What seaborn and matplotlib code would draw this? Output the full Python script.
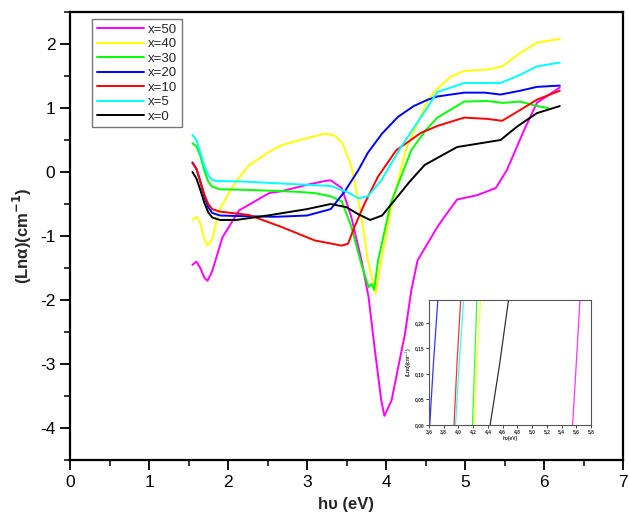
import numpy as np
import pandas as pd
import matplotlib
matplotlib.use("Agg")
import matplotlib.pyplot as plt
import seaborn as sns
from matplotlib.ticker import MultipleLocator, FuncFormatter

# main curves: hv (eV) vs ln(alpha)
hv_50 = [1.55, 1.60, 1.65, 1.70, 1.74, 1.80, 1.93, 2.14, 2.52, 2.68, 3.00, 3.23, 3.30, 3.44, 3.56, 3.69, 3.78,
         3.86, 3.94, 3.98, 4.07, 4.24, 4.32, 4.40, 4.53, 4.65, 4.74, 4.90, 5.16, 5.39, 5.53, 5.75, 5.91, 6.20]
ln_50 = [-1.45, -1.40, -1.50, -1.65, -1.70, -1.55, -1.02, -0.60, -0.33, -0.30, -0.20, -0.14, -0.13, -0.25, -0.70,
         -1.38, -1.96, -2.79, -3.57, -3.81, -3.57, -2.53, -1.85, -1.38, -1.11, -0.86, -0.70, -0.43, -0.36, -0.25,
         0.03, 0.66, 1.08, 1.32]

hv_40 = [1.55, 1.60, 1.65, 1.70, 1.74, 1.80, 1.89, 2.00, 2.10, 2.26, 2.50, 2.68, 3.00, 3.23, 3.35, 3.45, 3.56,
         3.69, 3.77, 3.87, 3.94, 4.06, 4.25, 4.53, 4.65, 4.82, 4.99, 5.28, 5.47, 5.70, 5.91, 6.20]
ln_40 = [-0.75, -0.70, -0.80, -1.05, -1.15, -1.05, -0.60, -0.35, -0.15, 0.10, 0.30, 0.42, 0.53, 0.60, 0.57, 0.45,
         0.10, -0.70, -1.38, -1.90, -1.38, -0.60, 0.34, 1.13, 1.30, 1.49, 1.58, 1.60, 1.65, 1.86, 2.02, 2.08]

hv_30 = [1.55, 1.60, 1.65, 1.70, 1.75, 1.80, 1.90, 2.26, 2.89, 3.10, 3.30, 3.44, 3.56, 3.69, 3.78, 3.82, 3.85,
         3.90, 4.06, 4.32, 4.50, 4.65, 4.99, 5.28, 5.47, 5.70, 5.91, 6.05]
ln_30 = [0.45, 0.40, 0.25, 0.02, -0.15, -0.23, -0.27, -0.28, -0.31, -0.33, -0.38, -0.46, -0.85, -1.45, -1.80,
         -1.75, -1.84, -1.38, -0.49, 0.34, 0.65, 0.85, 1.10, 1.11, 1.08, 1.10, 1.03, 1.00]

hv_20 = [1.55, 1.60, 1.65, 1.70, 1.75, 1.80, 1.90, 2.20, 2.60, 3.00, 3.30, 3.48, 3.65, 3.77, 3.95, 4.15, 4.35,
         4.53, 4.65, 4.99, 5.25, 5.45, 5.70, 5.91, 6.20]
ln_20 = [0.15, 0.05, -0.15, -0.38, -0.55, -0.64, -0.68, -0.69, -0.70, -0.68, -0.58, -0.30, 0.03, 0.30, 0.60,
         0.86, 1.03, 1.13, 1.18, 1.24, 1.24, 1.21, 1.27, 1.33, 1.35]

hv_10 = [1.55, 1.60, 1.65, 1.70, 1.75, 1.80, 1.90, 2.26, 2.68, 3.10, 3.44, 3.52, 3.60, 3.73, 3.90, 4.13, 4.44,
         4.65, 4.99, 5.28, 5.47, 5.70, 5.91, 6.20]
ln_10 = [0.14, 0.05, -0.15, -0.35, -0.50, -0.58, -0.62, -0.67, -0.86, -1.07, -1.15, -1.12, -0.86, -0.49, -0.07,
         0.34, 0.61, 0.72, 0.85, 0.83, 0.80, 0.97, 1.13, 1.27]

hv_5 = [1.55, 1.60, 1.65, 1.70, 1.75, 1.80, 1.85, 2.20, 2.68, 3.31, 3.52, 3.65, 3.77, 3.94, 4.19, 4.53, 4.65,
        4.99, 5.45, 5.70, 5.91, 6.20]
ln_5 = [0.58, 0.50, 0.30, 0.10, -0.05, -0.12, -0.14, -0.15, -0.18, -0.22, -0.32, -0.41, -0.38, -0.13, 0.39, 1.02,
        1.25, 1.39, 1.39, 1.52, 1.65, 1.71]

hv_0 = [1.55, 1.60, 1.65, 1.70, 1.75, 1.80, 1.90, 2.10, 2.50, 3.00, 3.30, 3.50, 3.65, 3.80, 3.95, 4.09, 4.30,
        4.49, 4.65, 4.90, 5.20, 5.45, 5.66, 5.91, 6.20]
ln_0 = [0.00, -0.10, -0.28, -0.48, -0.63, -0.71, -0.75, -0.75, -0.68, -0.58, -0.50, -0.55, -0.66, -0.75, -0.68,
        -0.47, -0.15, 0.11, 0.22, 0.39, 0.45, 0.50, 0.71, 0.92, 1.03]

# inset: near-vertical segments (bottom, middle, top)
inset_y = [0.0, 0.12, 0.245]
inset_x = {
    "x=20": [3.61, 3.66, 3.72],
    "x=10": [3.94, 3.98, 4.03],
    "x=5": [3.96, 4.01, 4.07],
    "x=30": [4.19, 4.22, 4.25],
    "x=40": [4.21, 4.25, 4.30],
    "x=0": [4.43, 4.56, 4.68],
    "x=50": [5.55, 5.60, 5.65],
}

labels = ["x=50", "x=40", "x=30", "x=20", "x=10", "x=5", "x=0"]
colors = ["#ff00ff", "#ffff00", "#00ff00", "#0000ff", "#ff0000", "#00ffff", "#000000"]
series = [(hv_50, ln_50), (hv_40, ln_40), (hv_30, ln_30), (hv_20, ln_20),
          (hv_10, ln_10), (hv_5, ln_5), (hv_0, ln_0)]

frames = []
for lab, (xs, ys) in zip(labels, series):
    frames.append(pd.DataFrame({"hv": xs, "ln": ys, "sample": lab}))
df = pd.concat(frames, ignore_index=True)

sns.set_style("ticks")
plt.rcParams["font.family"] = ["Liberation Sans", "DejaVu Sans"]
plt.rcParams["axes.unicode_minus"] = False

fig = plt.figure(figsize=(6.29, 5.18), dpi=100)
ax = fig.add_axes([70 / 629, 1 - 460 / 518, 553 / 629, 448 / 518])

pal = dict(zip(labels, colors))
sns.lineplot(data=df, x="hv", y="ln", hue="sample", hue_order=labels, palette=pal,
             sort=False, estimator=None, lw=1.4, ax=ax)

ax.set_xlim(0, 7)
ax.set_ylim(-4.5, 2.5)
ax.xaxis.set_major_locator(MultipleLocator(1))
ax.xaxis.set_minor_locator(MultipleLocator(0.5))
ax.yaxis.set_major_locator(MultipleLocator(1))
ax.yaxis.set_minor_locator(MultipleLocator(0.5))
ax.tick_params(which="major", direction="out", length=7, width=1.3, labelsize=12.5, colors="black")
ax.tick_params(which="minor", direction="out", length=4, width=1.3)
for s in ax.spines.values():
    s.set_linewidth(1.6)
    s.set_color("black")
ax.set_xlabel("h\u03c5 (eV)", fontsize=12, fontweight="bold", labelpad=5)
ax.set_ylabel("(Ln\u03b1)(cm$^{\\mathbf{-1}}$)", fontsize=12, fontweight="bold", labelpad=4)

leg = ax.legend(loc="upper left", bbox_to_anchor=(0.035, 0.99), fontsize=9.5, frameon=True,
                fancybox=False, handlelength=3.6, handletextpad=0.3, borderpad=0.35,
                labelspacing=0.17, borderaxespad=0.2)
leg.get_frame().set_edgecolor("#555555")
leg.get_frame().set_linewidth(1.0)
leg.set_title(None)

# inset
ins = fig.add_axes([429 / 629, 1 - 425 / 518, 162 / 629, 125 / 518])
for lab in labels:
    ins.plot(inset_x[lab], inset_y, color=pal[lab], lw=0.9, alpha=0.8)
ins.set_xlim(3.6, 5.8)
ins.set_ylim(0, 0.245)
ins.xaxis.set_major_locator(MultipleLocator(0.2))
ins.yaxis.set_major_locator(MultipleLocator(0.05))
comma = FuncFormatter(lambda v, p: ("%.1f" % v).replace(".", ","))
comma2 = FuncFormatter(lambda v, p: ("%.2f" % v).replace(".", ","))
ins.xaxis.set_major_formatter(comma)
ins.yaxis.set_major_formatter(comma2)
ins.tick_params(direction="out", length=2, width=0.6, labelsize=3.5, pad=1)
for t in ins.get_xticklabels() + ins.get_yticklabels():
    t.set_fontweight("bold")
for s in ins.spines.values():
    s.set_linewidth(0.8)
    s.set_color("#555555")
ins.set_xlabel("h\u03c5(eV)", fontsize=3.5, fontweight="bold", labelpad=1)
ins.set_ylabel("(Ln\u03b1)(cm$^{-1}$)", fontsize=3.5, fontweight="bold", labelpad=1)

fig.savefig("out.png", dpi=100)
